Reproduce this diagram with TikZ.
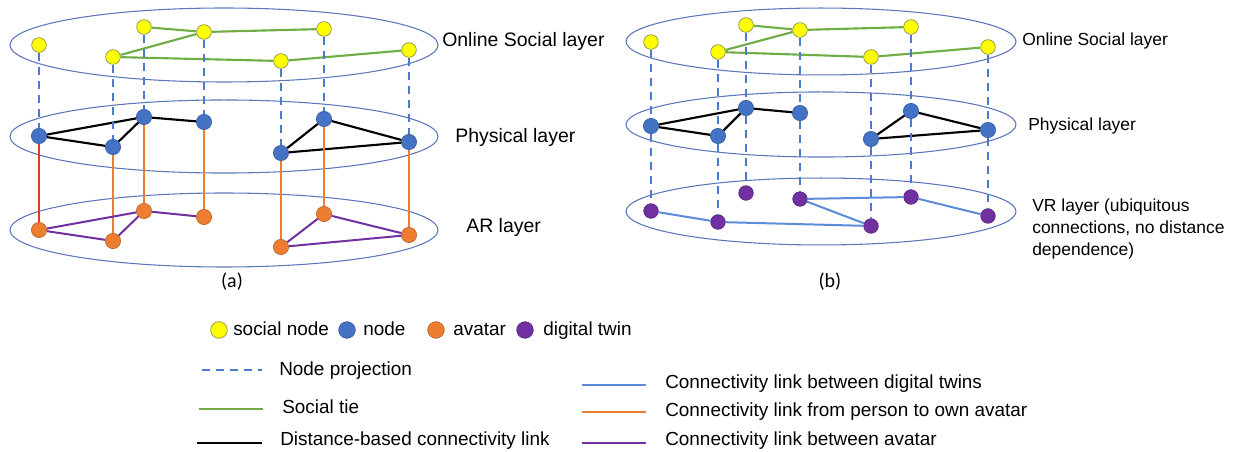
\documentclass[tikz,border=0pt]{standalone}
\usepackage{fontspec}
\setmainfont{Liberation Sans}
\newfontfamily\calib{Carlito}
\definecolor{ylw}{HTML}{FFFF00}
\definecolor{ylwd}{HTML}{9A9A50}
\definecolor{bl}{HTML}{4472C4}
\definecolor{bld}{HTML}{2F5597}
\definecolor{org}{HTML}{ED7D31}
\definecolor{orgd}{HTML}{B05E25}
\definecolor{pur}{HTML}{7030A0}
\definecolor{purd}{HTML}{55237A}
\definecolor{grn}{HTML}{70AD47}
\definecolor{ell}{HTML}{5B76BA}
\definecolor{redl}{HTML}{E8382C}
\definecolor{dashc}{HTML}{4A7BD0}
\definecolor{vlink}{HTML}{5B8BD9}
\tikzset{
  social/.style={circle,fill=ylw,draw=ylwd,line width=0.6pt,minimum size=11pt,inner sep=0pt},
  phys/.style={circle,fill=bl,draw=bld,line width=0.4pt,minimum size=11.5pt,inner sep=0pt},
  avat/.style={circle,fill=org,draw=orgd,line width=0.4pt,minimum size=11.5pt,inner sep=0pt},
  twin/.style={circle,fill=pur,draw=purd,line width=0.4pt,minimum size=11pt,inner sep=0pt},
  layerell/.style={draw=ell,line width=0.8pt},
  tie/.style={draw=grn,line width=1.6pt},
  dist/.style={draw=black,line width=1.6pt},
  proj/.style={draw=dashc,line width=1.5pt,dash pattern=on 6pt off 4.5pt},
  own/.style={draw=org,line width=1.5pt},
  redown/.style={draw=redl,line width=1.2pt},
  avlink/.style={draw=pur,line width=1.5pt},
  vrlink/.style={draw=vlink,line width=1.5pt},
  lbla/.style={anchor=base west,inner sep=0pt,font=\fontsize{14.6pt}{17pt}\selectfont},
  lblb/.style={anchor=base west,inner sep=0pt,font=\fontsize{13.1pt}{16.5pt}\selectfont},
  lgd/.style={anchor=base west,inner sep=0pt,font=\fontsize{14.2pt}{17pt}\selectfont},
  subcap/.style={inner sep=0pt,font=\calib\fontsize{15pt}{18pt}\selectfont},
}
\begin{document}
\begin{tikzpicture}[x=0.75pt,y=-0.75pt]
\useasboundingbox (0,0) rectangle (1233,452);
% ---------- panel (a) ----------
\draw[layerell] (224,45) ellipse [x radius=160.5pt, y radius=27.75pt];
\draw[layerell] (224,136.5) ellipse [x radius=160.5pt, y radius=27.4pt];
\draw[layerell] (224,230) ellipse [x radius=160.5pt, y radius=27.75pt];
\node[social] (as1) at (39,45) {};
\node[social] (as2) at (144,27) {};
\node[social] (as3) at (204,32) {};
\node[social] (as4) at (324,29) {};
\node[social] (as5) at (113,57) {};
\node[social] (as6) at (281,61) {};
\node[social] (as7) at (409,50) {};
\node[phys] (ap1) at (39,136) {};
\node[phys] (ap2) at (113,147) {};
\node[phys] (ap3) at (144,117) {};
\node[phys] (ap4) at (204,122) {};
\node[phys] (ap5) at (281,153) {};
\node[phys] (ap6) at (324,119) {};
\node[phys] (ap7) at (409,142) {};
\node[avat] (aa1) at (39,230) {};
\node[avat] (aa2) at (113,241) {};
\node[avat] (aa3) at (144,211) {};
\node[avat] (aa4) at (204,217) {};
\node[avat] (aa5) at (281,247) {};
\node[avat] (aa6) at (324,214) {};
\node[avat] (aa7) at (409,235) {};
\draw[tie] (as2) -- (as3);
\draw[tie] (as3) -- (as4);
\draw[tie] (as3) -- (as5);
\draw[tie] (as5) -- (as6);
\draw[tie] (as6) -- (as7);
\draw[dist] (ap1) -- (ap3);
\draw[dist] (ap1) -- (ap2);
\draw[dist] (ap2) -- (ap3);
\draw[dist] (ap3) -- (ap4);
\draw[dist] (ap5) -- (ap6);
\draw[dist] (ap6) -- (ap7);
\draw[dist] (ap5) -- (ap7);
\draw[proj] (as1) -- (ap1);
\draw[proj] (as5) -- (ap2);
\draw[proj] (as2) -- (ap3);
\draw[proj] (as3) -- (ap4);
\draw[proj] (as6) -- (ap5);
\draw[proj] (as4) -- (ap6);
\draw[proj] (as7) -- (ap7);
\draw[redown] (ap1) -- (aa1);
\draw[own] (ap2) -- (aa2);
\draw[own] (ap3) -- (aa3);
\draw[own] (ap4) -- (aa4);
\draw[own] (ap5) -- (aa5);
\draw[own] (ap6) -- (aa6);
\draw[own] (ap7) -- (aa7);
\draw[avlink] (aa1) -- (aa3);
\draw[avlink] (aa1) -- (aa2);
\draw[avlink] (aa2) -- (aa3);
\draw[avlink] (aa3) -- (aa4);
\draw[avlink] (aa5) -- (aa6);
\draw[avlink] (aa6) -- (aa7);
\draw[avlink] (aa5) -- (aa7);
\node[lbla] (tOa) at (442,47) {Online Social layer};
\node[lbla] (tPa) at (455,143) {Physical layer};
\node[lbla] (tAa) at (466,233) {AR layer};
\node[subcap] (capa) at (232,282) {(a)};
% ---------- panel (b) ----------
\draw[layerell] (821,41.5) ellipse [x radius=146.25pt, y radius=25.1pt];
\draw[layerell] (821,124.5) ellipse [x radius=146.25pt, y radius=24.4pt];
\draw[layerell] (821,211.5) ellipse [x radius=146.25pt, y radius=25.1pt];
\node[social] (bs1) at (651,42) {};
\node[social] (bs2) at (746,25) {};
\node[social] (bs3) at (800,30) {};
\node[social] (bs4) at (911,27) {};
\node[social] (bs5) at (718,52) {};
\node[social] (bs6) at (871,57) {};
\node[social] (bs7) at (988,47) {};
\node[phys] (bp1) at (651,126) {};
\node[phys] (bp2) at (718,136) {};
\node[phys] (bp3) at (746,108) {};
\node[phys] (bp4) at (800,113) {};
\node[phys] (bp5) at (871,139) {};
\node[phys] (bp6) at (911,111) {};
\node[phys] (bp7) at (988,130) {};
\node[twin] (bv1) at (651,211) {};
\node[twin] (bv2) at (718,222) {};
\node[twin] (bv3) at (746,193) {};
\node[twin] (bv4) at (800,199) {};
\node[twin] (bv5) at (871,226) {};
\node[twin] (bv6) at (911,197) {};
\node[twin] (bv7) at (988,216) {};
\draw[tie] (bs2) -- (bs3);
\draw[tie] (bs3) -- (bs4);
\draw[tie] (bs3) -- (bs5);
\draw[tie] (bs5) -- (bs6);
\draw[tie] (bs6) -- (bs7);
\draw[dist] (bp1) -- (bp3);
\draw[dist] (bp1) -- (bp2);
\draw[dist] (bp2) -- (bp3);
\draw[dist] (bp3) -- (bp4);
\draw[dist] (bp5) -- (bp6);
\draw[dist] (bp6) -- (bp7);
\draw[dist] (bp5) -- (bp7);
\draw[proj] (bs1) -- (bp1);
\draw[proj] (bs5) -- (bp2);
\draw[proj] (bs2) -- (bp3);
\draw[proj] (bs3) -- (bp4);
\draw[proj] (bs6) -- (bp5);
\draw[proj] (bs4) -- (bp6);
\draw[proj] (bs7) -- (bp7);
\draw[proj] (bp1) -- (bv1);
\draw[proj] (bp2) -- (bv2);
\draw[proj] (bp3) -- (bv3);
\draw[proj] (bp4) -- (bv4);
\draw[proj] (bp5) -- (bv5);
\draw[proj] (bp6) -- (bv6);
\draw[proj] (bp7) -- (bv7);
\draw[vrlink] (bv1) -- (bv2);
\draw[vrlink] (bv2) -- (bv5);
\draw[vrlink] (bv4) -- (bv5);
\draw[vrlink] (bv4) -- (bv6);
\draw[vrlink] (bv6) -- (bv7);
\node[lblb] (tOb) at (1022,46) {Online Social layer};
\node[lblb] (tPb) at (1028,131) {Physical layer};
\node[lblb] (tVb1) at (1032,212) {VR layer (ubiquitous};
\node[lblb] (tVb2) at (1032,234) {connections, no distance};
\node[lblb] (tVb3) at (1032,256) {dependence)};
\node[subcap] (capb) at (830,282) {(b)};
% ---------- legend ----------
\node[social,minimum size=12.5pt] (lg1) at (219,330) {};
\node[lgd] (lg1t) at (233,336) {social node};
\node[phys,minimum size=12.5pt] (lg2) at (347,330) {};
\node[lgd] (lg2t) at (363,336) {node};
\node[avat,minimum size=12.5pt] (lg3) at (436,330) {};
\node[lgd] (lg3t) at (453,336) {avatar};
\node[twin,minimum size=12.5pt] (lg4) at (525,330) {};
\node[lgd] (lg4t) at (543,336) {digital twin};
\coordinate (d1a) at (202,370); \coordinate (d1b) at (262,370);
\draw[proj] (d1a) -- (d1b);
\node[lgd] (d1t) at (279,376) {Node projection};
\coordinate (d2a) at (199,409); \coordinate (d2b) at (263,409);
\draw[tie,line width=1.3pt] (d2a) -- (d2b);
\node[lgd] (d2t) at (282,414) {Social tie};
\coordinate (d3a) at (197,443); \coordinate (d3b) at (262,443);
\draw[dist,line width=1.3pt] (d3a) -- (d3b);
\node[lgd] (d3t) at (280,446) {Distance-based connectivity link};
\coordinate (r1a) at (582,385); \coordinate (r1b) at (646,385);
\draw[vrlink,line width=1.3pt] (r1a) -- (r1b);
\node[lgd] (r1t) at (665,389) {Connectivity link between digital twins};
\coordinate (r2a) at (582,412); \coordinate (r2b) at (646,412);
\draw[own,line width=1.3pt] (r2a) -- (r2b);
\node[lgd] (r2t) at (665,417) {Connectivity link from person to own avatar};
\coordinate (r3a) at (582,443); \coordinate (r3b) at (646,443);
\draw[avlink,line width=1.3pt] (r3a) -- (r3b);
\node[lgd] (r3t) at (665,446) {Connectivity link between avatar};
\end{tikzpicture}
\end{document}
